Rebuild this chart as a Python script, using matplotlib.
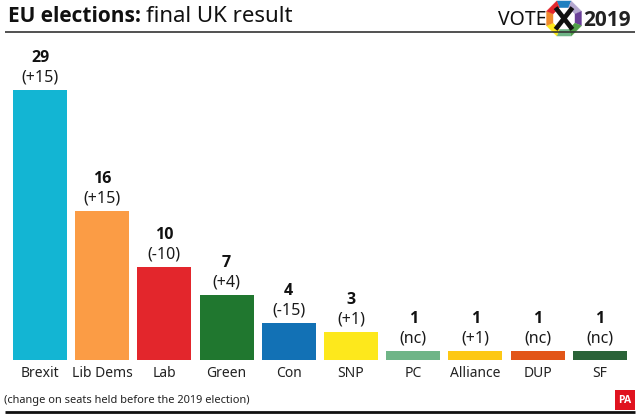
import numpy as np
import matplotlib
matplotlib.use('Agg')
import matplotlib.pyplot as plt
import matplotlib.patches as patches

parties = ['Brexit', 'Lib Dems', 'Lab', 'Green', 'Con', 'SNP', 'PC', 'Alliance', 'DUP', 'SF']
seats = [29, 16, 10, 7, 4, 3, 1, 1, 1, 1]
changes = ['(+15)', '(+15)', '(-10)', '(+4)', '(-15)', '(+1)', '(nc)', '(+1)', '(nc)', '(nc)']
colours = ['#13b5d3', '#fb9c45', '#e3262c', '#20772f', '#1271b5', '#fde81c', '#6fb587', '#fdc815', '#e25518', '#2a6338']
logo_colours = ['#1f7fc0', '#b4a7cf', '#6a3f98', '#4f9e48', '#6fb587', '#fde81c', '#f08a2c', '#e3262c']

W, H = 640, 415
plt.rcParams['font.family'] = ['Noto Sans', 'DejaVu Sans']
BOLD = ['Open Sans', 'DejaVu Sans']

fig = plt.figure(figsize=(W/100, H/100), dpi=100, facecolor='w')

# main chart, axes spans the width, baseline at y=360px and 29 seats at y=90px
ax = fig.add_axes([0, 1-360/H, 1, 270/H])
step = 62.2
ax.bar(np.arange(len(parties)), seats, width=54/step, color=colours)
ax.set_xlim(-40/step, (W-40)/step)
ax.set_ylim(0, 29)
ax.axis('off')

for i, (s, c, name) in enumerate(zip(seats, changes, parties)):
    ax.annotate(c, (i, s), xytext=(0, 3), textcoords='offset points', ha='center', va='bottom',
                fontsize=11.5, color='#1a1a1a')
    ax.annotate(str(s), (i, s), xytext=(0, 17), textcoords='offset points', ha='center', va='bottom',
                fontsize=11.5, fontweight='bold', family=BOLD, color='#111111')
    ax.annotate(name, (i, 0), xytext=(0, -4), textcoords='offset points', ha='center', va='top',
                fontsize=10, color='#222222')


# overlay in pixel coords for the furniture
over = fig.add_axes([0, 0, 1, 1])
over.set_xlim(0, W)
over.set_ylim(H, 0)
over.axis('off')
over.patch.set_alpha(0)

over.text(8, 17, 'EU elections:', fontsize=15, fontweight='bold', family=BOLD, va='center', ha='left', color='#111111')
over.text(146, 17, 'final UK result', fontsize=16, va='center', ha='left', color='#111111')
over.plot([5, 635], [32.5, 32.5], color='#333333', lw=1.2, solid_capstyle='butt')
over.plot([5, 635], [411.5, 411.5], color='#111111', lw=2, solid_capstyle='butt')

over.text(4, 400, '(change on seats held before the 2019 election)', fontsize=7.95, va='center', ha='left',
          color='#222222')

# PA badge
over.add_patch(patches.Rectangle((615, 390), 20, 20, color='#e0131f', lw=0))
over.text(625, 400.5, 'PA', fontsize=7.5, fontweight='bold', family=BOLD, color='w', ha='center', va='center')

# vote logo
over.text(546, 20, 'VOTE', fontsize=14, va='center', ha='right', color='#111111')
over.text(583, 20, '2019', fontsize=15, fontweight='bold', family=BOLD, va='center', ha='left', color='#222222')
cx, cy, r_out, r_in = 564, 18.5, 19, 11.5
angles = np.radians(np.arange(-112.5, 247.5, 45))
for k, col in enumerate(logo_colours):
    a0, a1 = angles[k], angles[k]+np.radians(45)
    pts = [(cx+r_out*np.cos(a0), cy+r_out*np.sin(a0)), (cx+r_out*np.cos(a1), cy+r_out*np.sin(a1)),
           (cx+r_in*np.cos(a1), cy+r_in*np.sin(a1)), (cx+r_in*np.cos(a0), cy+r_in*np.sin(a0))]
    over.add_patch(patches.Polygon(pts, closed=True, facecolor=col, edgecolor=col, lw=0.2))
over.add_patch(patches.Polygon([(cx+r_in*np.cos(a), cy+r_in*np.sin(a)) for a in angles], closed=True, color='w', lw=0))
over.plot([cx-7, cx+7], [cy-9, cy+9], color='#111111', lw=3.4)
over.plot([cx-7, cx+7], [cy+9, cy-9], color='#111111', lw=3.4)

fig.savefig('out.png', dpi=100)
